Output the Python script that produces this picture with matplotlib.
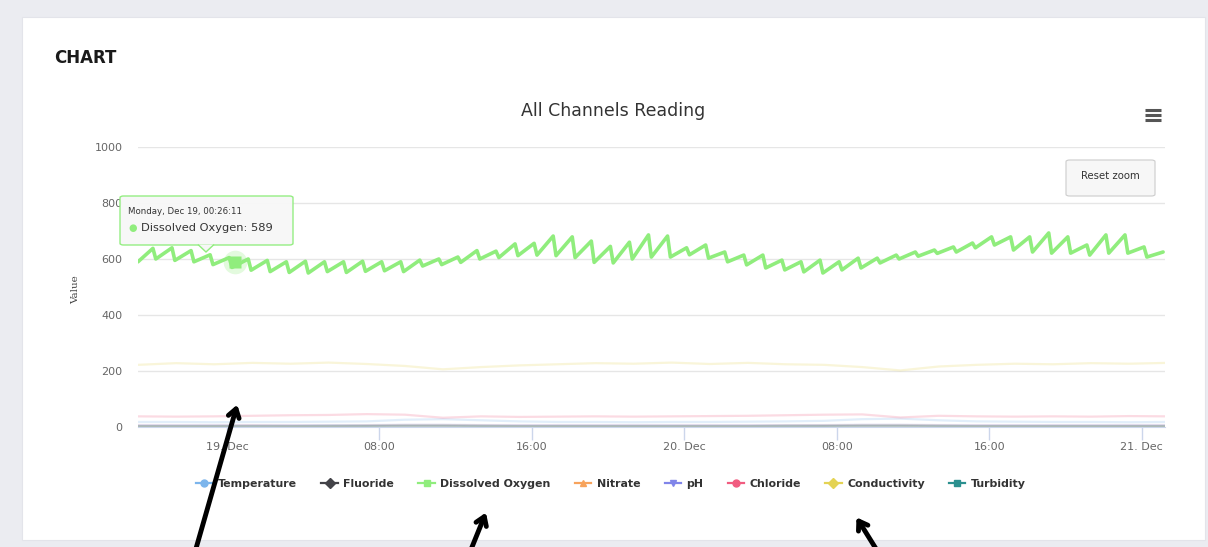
import numpy as np
import pandas as pd
import matplotlib
matplotlib.use("Agg")
import matplotlib.pyplot as plt
import matplotlib.dates as mdates
from matplotlib.patches import FancyBboxPatch, Rectangle, Polygon
from matplotlib.lines import Line2D

W, H = 1208, 547

# --- data -----------------------------------------------------------------
series_names = ["Temperature", "Fluoride", "Dissolved Oxygen", "Nitrate",
                "pH", "Chloride", "Conductivity", "Turbidity"]
series_colors = ["#7cb5ec", "#434348", "#90ed7d", "#f7a35c",
                 "#8085e9", "#f15c80", "#e4d354", "#2b908f"]
series_markers = ["o", "D", "s", "^", "v", "o", "D", "s"]

# dissolved oxygen: hourly saw-tooth (slow rise to a peak, sharp drop)
do_first = (pd.Timestamp("2022-12-18 19:20"), 590)
do_last = (pd.Timestamp("2022-12-21 01:07"), 625)
do_peak_times = pd.date_range("2022-12-18 20:07", periods=53, freq="h")
do_peaks = [638, 640, 630, 615, 605, 600, 595, 590, 592, 590,
            590, 592, 590, 590, 596, 600, 607, 630, 628, 654,
            656, 682, 679, 664, 645, 660, 686, 682, 640, 650,
            625, 614, 614, 596, 590, 596, 590, 603, 603, 614,
            625, 632, 643, 657, 679, 679, 679, 693, 679, 650,
            686, 686, 643]
do_troughs = [600, 595, 590, 580, 570, 560, 555, 552, 550, 555,
              552, 556, 558, 555, 575, 580, 588, 600, 605, 612,
              614, 612, 605, 588, 586, 600, 607, 607, 615, 603,
              590, 579, 568, 561, 554, 550, 561, 568, 586, 600,
              610, 620, 625, 640, 650, 632, 625, 621, 621, 614,
              621, 621, 607]

# the other channels, read every two hours
other_times = pd.date_range("2022-12-18 19:20", periods=28, freq="2h")
temperature = [18, 18, 17, 18, 18, 19, 20, 26, 28, 24, 20, 18, 18, 17,
               18, 18, 19, 20, 22, 28, 30, 24, 20, 19, 18, 18, 17, 18]
fluoride = [2, 2, 2, 2, 2, 2, 3, 3, 3, 2, 2, 2, 2, 2,
            2, 2, 2, 2, 3, 3, 3, 2, 2, 2, 2, 2, 2, 2]
nitrate = [5, 5, 5, 6, 5, 5, 6, 7, 7, 6, 5, 5, 5, 5,
           5, 5, 5, 6, 6, 7, 7, 6, 5, 5, 5, 5, 5, 5]
ph = [7, 7, 7, 7, 7, 7, 7, 8, 8, 7, 7, 7, 7, 7,
      7, 7, 7, 7, 7, 8, 8, 7, 7, 7, 7, 7, 7, 7]
chloride = [38, 37, 38, 40, 42, 43, 46, 44, 33, 38, 36, 37, 38, 37,
            38, 39, 40, 42, 44, 45, 34, 40, 38, 37, 38, 37, 39, 38]
conductivity = [222, 228, 224, 229, 226, 230, 225, 218, 206, 214, 220, 224, 228, 226,
                230, 225, 229, 224, 222, 214, 202, 216, 222, 226, 224, 228, 226, 229]
turbidity = [3, 3, 3, 3, 3, 4, 4, 5, 5, 4, 3, 3, 3, 3,
             3, 3, 3, 4, 4, 5, 5, 4, 3, 3, 3, 3, 3, 3]

x_tick_times = pd.to_datetime(["2022-12-19 00:00", "2022-12-19 08:00", "2022-12-19 16:00",
                               "2022-12-20 00:00", "2022-12-20 08:00", "2022-12-20 16:00",
                               "2022-12-21 00:00"])
x_tick_labels = ["19. Dec", "08:00", "16:00", "20. Dec", "08:00", "16:00", "21. Dec"]
y_ticks = [0, 200, 400, 600, 800, 1000]

tooltip_time = pd.Timestamp("2022-12-19 00:26:11")
tooltip_value = 589

# --- build the saw-tooth path ---------------------------------------------
do_t = [do_first[0]]
do_v = [do_first[1]]
for t, p, q in zip(do_peak_times, do_peaks, do_troughs):
    do_t += [t, t + pd.Timedelta(minutes=9)]
    do_v += [p, q]
do_t.append(do_last[0])
do_v.append(do_last[1])


def fx(px):
    return px / W


def fy(py):
    return 1 - py / H


fig = plt.figure(figsize=(W / 100, H / 100), dpi=100)
fig.patch.set_facecolor("#ebecf1")
fig.patches.append(Rectangle((fx(22), fy(540)), fx(1205) - fx(22), fy(17) - fy(540),
                             transform=fig.transFigure, facecolor="white",
                             edgecolor="#e3e4ea", lw=0.8, zorder=-5))

fig.text(fx(54), fy(58), "CHART", fontsize=12, fontweight="bold", color="#1a1a1a",
         va="center", ha="left")
fig.text(fx(613), fy(111), "All Channels Reading", fontsize=12.5, color="#333333",
         va="center", ha="center")

ax = fig.add_axes([fx(138), fy(427), fx(1165) - fx(138), fy(147) - fy(427)])
ax.set_facecolor("none")

others = [temperature, fluoride, None, nitrate, ph, chloride, conductivity, turbidity]
for name, col, vals in zip(series_names, series_colors, others):
    if vals is None:
        continue
    ax.plot(other_times, vals, color=col, lw=1.6, alpha=0.22, zorder=2)
ax.plot(do_t, do_v, color=series_colors[2], lw=2.6, zorder=3,
        solid_joinstyle="round", solid_capstyle="round")

# hovered point
ax.plot([tooltip_time], [tooltip_value], "o", ms=17, color=series_colors[2], alpha=0.25,
        mec="none", zorder=4)
ax.plot([tooltip_time], [tooltip_value], "s", ms=8, color=series_colors[2], mec="none",
        zorder=5)

ax.set_xlim(pd.Timestamp("2022-12-18 19:20"), pd.Timestamp("2022-12-21 01:13"))
ax.set_ylim(0, 1000)
ax.set_yticks(y_ticks)
ax.set_yticklabels([str(v) for v in y_ticks])
ax.set_xticks(x_tick_times)
ax.set_xticklabels(x_tick_labels)
ax.grid(axis="y", color="#e6e6e6", lw=1)
ax.set_axisbelow(True)
for s in ["top", "right", "left"]:
    ax.spines[s].set_visible(False)
ax.spines["bottom"].set_color("#ccd6eb")
ax.tick_params(axis="y", length=0, labelsize=8, labelcolor="#666666", pad=11)
ax.tick_params(axis="x", length=9, width=1, color="#ccd6eb", labelsize=8,
               labelcolor="#666666", pad=2)
fig.text(fx(76), fy(290), "Value", rotation=90, fontsize=7.5, family="DejaVu Serif",
         color="#444444", va="center", ha="center")

# legend
handles = [Line2D([0], [0], color=c, marker=m, ms=5, lw=1.6)
           for c, m in zip(series_colors, series_markers)]
fig.legend(handles, series_names, loc="center", bbox_to_anchor=(fx(611), fy(484)),
           ncol=8, frameon=False, handlelength=1.5, handletextpad=0.5,
           columnspacing=2.2, prop={"size": 7.9, "weight": "bold"}, labelcolor="#333333")

# reset zoom button and menu icon
fig.patches.append(FancyBboxPatch((fx(1066), fy(196)), fx(1155) - fx(1066), fy(160) - fy(196),
                                  boxstyle="round,pad=0,rounding_size=0.003",
                                  transform=fig.transFigure, facecolor="#f7f7f7",
                                  edgecolor="#cccccc", lw=0.8, zorder=5))
fig.text(fx(1110), fy(176), "Reset zoom", fontsize=7.3, color="#333333",
         ha="center", va="center", zorder=6)
for yy in (110, 115, 120):
    fig.add_artist(Line2D([fx(1145), fx(1161)], [fy(yy), fy(yy)], color="#555555", lw=2.2,
                          solid_capstyle="butt"))

# tooltip
fig.patches.append(FancyBboxPatch((fx(120), fy(245)), fx(293) - fx(120), fy(196) - fy(245),
                                  boxstyle="round,pad=0,rounding_size=0.003",
                                  transform=fig.transFigure, facecolor="#f7f7f7",
                                  edgecolor=series_colors[2], lw=1.0, alpha=0.95, zorder=6))
fig.patches.append(Polygon([[fx(198), fy(244.5)], [fx(206), fy(252)], [fx(214), fy(244.5)]],
                           closed=False, transform=fig.transFigure, facecolor="#f7f7f7",
                           edgecolor=series_colors[2], lw=1.0, zorder=7))
fig.text(fx(128), fy(212), "Monday, Dec 19, 00:26:11", fontsize=6.2, color="#333333",
         ha="left", va="center", zorder=8)
fig.text(fx(133), fy(228), "\u25CF", fontsize=7, color=series_colors[2],
         ha="center", va="center", zorder=8)
fig.text(fx(141), fy(228), "Dissolved Oxygen: 589", fontsize=8.2, color="#333333",
         ha="left", va="center", zorder=8)

# hand-drawn annotation arrows
for (x0, y0), (x1, y1) in [((195, 552), (238, 402)), ((470, 552), (487, 510)),
                           ((878, 552), (855, 515))]:
    fig.add_artist(matplotlib.patches.FancyArrowPatch(
        (fx(x0), fy(y0)), (fx(x1), fy(y1)), transform=fig.transFigure,
        arrowstyle="->,head_length=6,head_width=4", lw=3.5, color="black",
        mutation_scale=1, zorder=10))

fig.savefig("out.png", dpi=100)
